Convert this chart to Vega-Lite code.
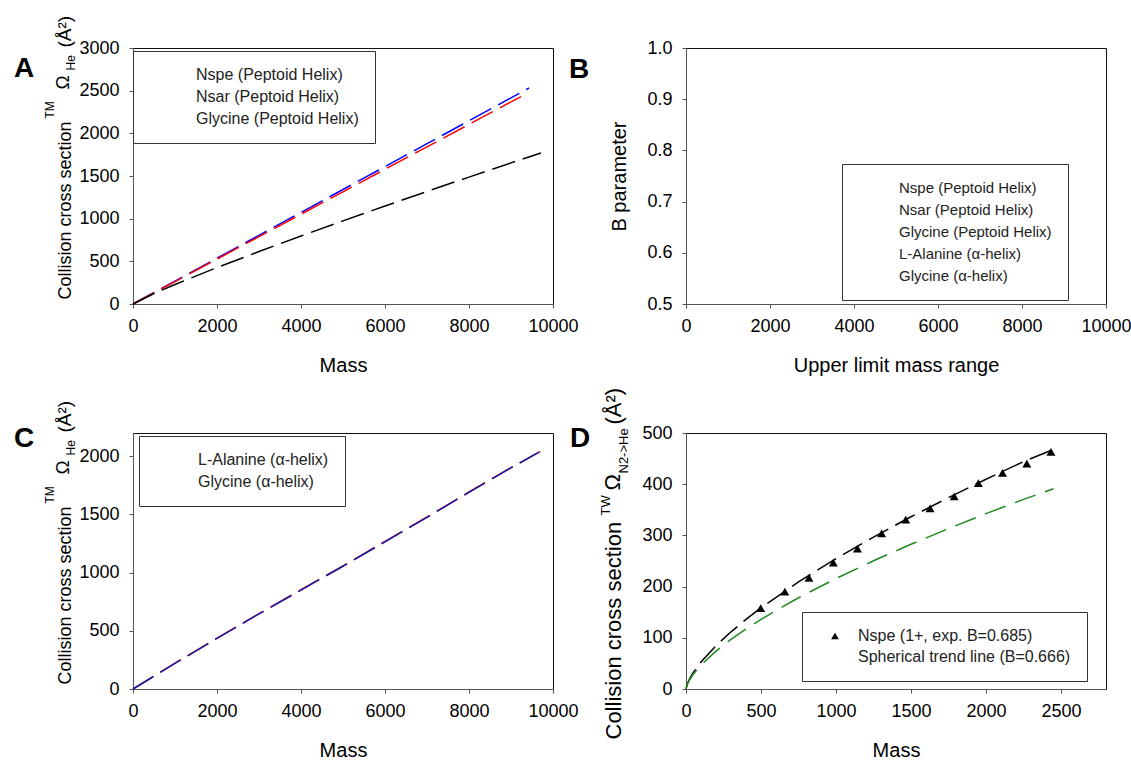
{
  "$schema": "https://vega.github.io/schema/vega-lite/v6.json",
  "padding": {"left": 13, "top": 14, "right": 10, "bottom": 10},
  "background": "white",
  "config": {
    "font": "Liberation Sans",
    "view": {"stroke": "#111", "strokeWidth": 1},
    "axis": {"labelFont": "Liberation Sans", "titleFont": "Liberation Sans", "labelFontSize": 18, "titleFontSize": 20, "titleFontWeight": "normal", "labelColor": "#000", "titleColor": "#000", "domainColor": "#555", "tickColor": "#555", "tickSize": 4, "labelPadding": 9, "titlePadding": 20, "grid": false, "labelFlush": false, "labelOverlap": false, "format": "d"},
    "legend": {"labelFont": "Liberation Sans", "labelFontSize": 16, "labelColor": "#222", "strokeColor": "#333", "fillColor": "white", "padding": 16, "rowPadding": 6, "symbolOpacity": 0, "labelLimit": 400}
  },
  "datasets": {
    "A": [
      {"m": 0, "v": 0, "s": "Nspe (Peptoid Helix)"}, {"m": 1000, "v": 268, "s": "Nspe (Peptoid Helix)"}, {"m": 2000, "v": 537, "s": "Nspe (Peptoid Helix)"}, {"m": 3000, "v": 805, "s": "Nspe (Peptoid Helix)"}, {"m": 4000, "v": 1074, "s": "Nspe (Peptoid Helix)"}, {"m": 5000, "v": 1342, "s": "Nspe (Peptoid Helix)"}, {"m": 6000, "v": 1610, "s": "Nspe (Peptoid Helix)"}, {"m": 7000, "v": 1879, "s": "Nspe (Peptoid Helix)"}, {"m": 8000, "v": 2147, "s": "Nspe (Peptoid Helix)"}, {"m": 9000, "v": 2416, "s": "Nspe (Peptoid Helix)"}, {"m": 9430, "v": 2531, "s": "Nspe (Peptoid Helix)"},
      {"m": 0, "v": 0, "s": "Nsar (Peptoid Helix)"}, {"m": 1000, "v": 263, "s": "Nsar (Peptoid Helix)"}, {"m": 2000, "v": 526, "s": "Nsar (Peptoid Helix)"}, {"m": 3000, "v": 789, "s": "Nsar (Peptoid Helix)"}, {"m": 4000, "v": 1052, "s": "Nsar (Peptoid Helix)"}, {"m": 5000, "v": 1315, "s": "Nsar (Peptoid Helix)"}, {"m": 6000, "v": 1579, "s": "Nsar (Peptoid Helix)"}, {"m": 7000, "v": 1842, "s": "Nsar (Peptoid Helix)"}, {"m": 8000, "v": 2105, "s": "Nsar (Peptoid Helix)"}, {"m": 9000, "v": 2368, "s": "Nsar (Peptoid Helix)"}, {"m": 9360, "v": 2463, "s": "Nsar (Peptoid Helix)"},
      {"m": 0, "v": 0, "s": "Glycine (Peptoid Helix)"}, {"m": 500, "v": 123, "s": "Glycine (Peptoid Helix)"}, {"m": 1000, "v": 229, "s": "Glycine (Peptoid Helix)"}, {"m": 2000, "v": 427, "s": "Glycine (Peptoid Helix)"}, {"m": 3000, "v": 615, "s": "Glycine (Peptoid Helix)"}, {"m": 4000, "v": 797, "s": "Glycine (Peptoid Helix)"}, {"m": 5000, "v": 974, "s": "Glycine (Peptoid Helix)"}, {"m": 6000, "v": 1148, "s": "Glycine (Peptoid Helix)"}, {"m": 7000, "v": 1319, "s": "Glycine (Peptoid Helix)"}, {"m": 8000, "v": 1487, "s": "Glycine (Peptoid Helix)"}, {"m": 9000, "v": 1654, "s": "Glycine (Peptoid Helix)"}, {"m": 9714, "v": 1770, "s": "Glycine (Peptoid Helix)"}
    ],
    "B": [
      {"s": "Nspe (Peptoid Helix)"}, {"s": "Nsar (Peptoid Helix)"}, {"s": "Glycine (Peptoid Helix)"}, {"s": "L-Alanine (α-helix)"}, {"s": "Glycine (α-helix)"}
    ],
    "C": [
      {"m": 0, "v": 0, "s": "L-Alanine (α-helix)"}, {"m": 1000, "v": 222, "s": "L-Alanine (α-helix)"}, {"m": 2000, "v": 438, "s": "L-Alanine (α-helix)"}, {"m": 3000, "v": 648, "s": "L-Alanine (α-helix)"}, {"m": 4000, "v": 853, "s": "L-Alanine (α-helix)"}, {"m": 5000, "v": 1058, "s": "L-Alanine (α-helix)"}, {"m": 6000, "v": 1268, "s": "L-Alanine (α-helix)"}, {"m": 7000, "v": 1478, "s": "L-Alanine (α-helix)"}, {"m": 8000, "v": 1693, "s": "L-Alanine (α-helix)"}, {"m": 9000, "v": 1903, "s": "L-Alanine (α-helix)"}, {"m": 9700, "v": 2042, "s": "L-Alanine (α-helix)"},
      {"m": 0, "v": 0, "s": "Glycine (α-helix)"}, {"m": 1000, "v": 220, "s": "Glycine (α-helix)"}, {"m": 2000, "v": 435, "s": "Glycine (α-helix)"}, {"m": 3000, "v": 645, "s": "Glycine (α-helix)"}, {"m": 4000, "v": 850, "s": "Glycine (α-helix)"}, {"m": 5000, "v": 1055, "s": "Glycine (α-helix)"}, {"m": 6000, "v": 1265, "s": "Glycine (α-helix)"}, {"m": 7000, "v": 1475, "s": "Glycine (α-helix)"}, {"m": 8000, "v": 1690, "s": "Glycine (α-helix)"}, {"m": 9000, "v": 1900, "s": "Glycine (α-helix)"}, {"m": 9667, "v": 2035, "s": "Glycine (α-helix)"}
    ],
    "Dpts": [
      {"m": 498, "v": 158, "s": "Nspe (1+, exp. B=0.685)"}, {"m": 659, "v": 190, "s": "Nspe (1+, exp. B=0.685)"}, {"m": 820, "v": 217, "s": "Nspe (1+, exp. B=0.685)"}, {"m": 982, "v": 247, "s": "Nspe (1+, exp. B=0.685)"}, {"m": 1143, "v": 274, "s": "Nspe (1+, exp. B=0.685)"}, {"m": 1304, "v": 304, "s": "Nspe (1+, exp. B=0.685)"}, {"m": 1465, "v": 331, "s": "Nspe (1+, exp. B=0.685)"}, {"m": 1627, "v": 353, "s": "Nspe (1+, exp. B=0.685)"}, {"m": 1788, "v": 376, "s": "Nspe (1+, exp. B=0.685)"}, {"m": 1949, "v": 402, "s": "Nspe (1+, exp. B=0.685)"}, {"m": 2110, "v": 422, "s": "Nspe (1+, exp. B=0.685)"}, {"m": 2272, "v": 440, "s": "Nspe (1+, exp. B=0.685)"}, {"m": 2433, "v": 463, "s": "Nspe (1+, exp. B=0.685)"}
    ],
    "Dfit": [
      {"m": 0, "v": 0}, {"m": 10, "v": 10.9}, {"m": 25, "v": 20.4}, {"m": 50, "v": 32.7}, {"m": 100, "v": 52.6}, {"m": 200, "v": 84.6}, {"m": 300, "v": 111.7}, {"m": 400, "v": 136.0}, {"m": 500, "v": 158.5}, {"m": 750, "v": 209.2}, {"m": 1000, "v": 254.8}, {"m": 1250, "v": 296.8}, {"m": 1500, "v": 336.4}, {"m": 1750, "v": 373.8}, {"m": 2000, "v": 409.7}, {"m": 2250, "v": 444.1}, {"m": 2450, "v": 468.0}
    ],
    "Dsph": [
      {"m": 0, "v": 0}, {"m": 10, "v": 10.0}, {"m": 25, "v": 18.5}, {"m": 50, "v": 29.4}, {"m": 100, "v": 46.6}, {"m": 200, "v": 73.9}, {"m": 300, "v": 96.8}, {"m": 400, "v": 117.2}, {"m": 500, "v": 136.0}, {"m": 750, "v": 178.2}, {"m": 1000, "v": 215.8}, {"m": 1250, "v": 250.4}, {"m": 1500, "v": 282.7}, {"m": 1750, "v": 313.3}, {"m": 2000, "v": 342.5}, {"m": 2250, "v": 370.3}, {"m": 2450, "v": 391.0}
    ]
  },
  "columns": 2,
  "spacing": {"row": 129, "column": 133},
  "bounds": "flush",
  "resolve": {"scale": {"x": "independent", "y": "independent", "color": "independent", "shape": "independent"}, "legend": {"color": "independent", "shape": "independent"}},
  "concat": [
    {
      "width": 420, "height": 256,
      "title": {"text": "A", "anchor": "start", "frame": "group", "dx": -119, "dy": 94, "fontSize": 28, "fontWeight": "bold", "font": "Liberation Sans", "align": "left", "baseline": "alphabetic", "color": "black"},
      "resolve": {"axis": {"y": "independent"}},
      "layer": [
        {"data": {"name": "A"}, "mark": {"type": "line", "strokeDash": [24, 8], "strokeWidth": 1.5},
          "encoding": {
            "x": {"field": "m", "type": "quantitative", "scale": {"domain": [0, 10000], "nice": false}, "axis": {"title": "Mass", "values": [0, 2000, 4000, 6000, 8000, 10000]}},
            "y": {"field": "v", "type": "quantitative", "scale": {"domain": [0, 3000], "nice": false}, "axis": {"orient": "left", "title": "Collision cross section", "values": [0, 500, 1000, 1500, 2000, 2500, 3000], "labelPadding": 10, "titleX": -63, "titleY": 251, "titleAngle": 270, "titleAlign": "left", "titleBaseline": "alphabetic", "titleFontSize": 18}},
            "color": {"field": "s", "type": "nominal", "scale": {"domain": ["Nspe (Peptoid Helix)", "Nsar (Peptoid Helix)", "Glycine (Peptoid Helix)"], "range": ["#0000ff", "#ff0000", "#000000"]}, "legend": {"title": null, "orient": "none", "legendX": 0, "legendY": 3, "labelOffset": 31}}
          }},
        {"data": {"name": "A"}, "mark": {"type": "point", "opacity": 0},
          "encoding": {
            "x": {"field": "m", "type": "quantitative", "scale": {"domain": [0, 10000], "nice": false}, "axis": {"title": "Mass", "values": [0, 2000, 4000, 6000, 8000, 10000]}},
            "y": {"field": "v", "type": "quantitative", "scale": {"domain": [0, 3000], "nice": false}, "axis": {"orient": "left", "title": "TM", "labels": false, "ticks": false, "domain": false, "titleX": -80, "titleY": 70, "titleAngle": 270, "titleAlign": "left", "titleBaseline": "alphabetic", "titleFontSize": 12}}
          }},
        {"data": {"name": "A"}, "mark": {"type": "point", "opacity": 0},
          "encoding": {
            "x": {"field": "m", "type": "quantitative", "scale": {"domain": [0, 10000], "nice": false}, "axis": {"title": "Mass", "values": [0, 2000, 4000, 6000, 8000, 10000]}},
            "y": {"field": "v", "type": "quantitative", "scale": {"domain": [0, 3000], "nice": false}, "axis": {"orient": "left", "title": "Ω", "labels": false, "ticks": false, "domain": false, "titleX": -65, "titleY": 41, "titleAngle": 270, "titleAlign": "left", "titleBaseline": "alphabetic", "titleFontSize": 19}}
          }},
        {"data": {"name": "A"}, "mark": {"type": "point", "opacity": 0},
          "encoding": {
            "x": {"field": "m", "type": "quantitative", "scale": {"domain": [0, 10000], "nice": false}, "axis": {"title": "Mass", "values": [0, 2000, 4000, 6000, 8000, 10000]}},
            "y": {"field": "v", "type": "quantitative", "scale": {"domain": [0, 3000], "nice": false}, "axis": {"orient": "left", "title": "He", "labels": false, "ticks": false, "domain": false, "titleX": -59, "titleY": 22, "titleAngle": 270, "titleAlign": "left", "titleBaseline": "alphabetic", "titleFontSize": 12}}
          }},
        {"data": {"name": "A"}, "mark": {"type": "point", "opacity": 0},
          "encoding": {
            "x": {"field": "m", "type": "quantitative", "scale": {"domain": [0, 10000], "nice": false}, "axis": {"title": "Mass", "values": [0, 2000, 4000, 6000, 8000, 10000]}},
            "y": {"field": "v", "type": "quantitative", "scale": {"domain": [0, 3000], "nice": false}, "axis": {"orient": "left", "title": "(Å²)", "labels": false, "ticks": false, "domain": false, "titleX": -63, "titleY": -1, "titleAngle": 270, "titleAlign": "left", "titleBaseline": "alphabetic", "titleFontSize": 19}}
          }}
      ]
    },
    {
      "width": 420, "height": 256,
      "title": {"text": "B", "anchor": "start", "frame": "group", "dx": -117, "dy": 71, "fontSize": 28, "fontWeight": "bold", "font": "Liberation Sans", "align": "left", "baseline": "alphabetic", "color": "black"},
      "data": {"name": "B"},
      "mark": {"type": "point", "opacity": 0},
      "encoding": {
        "x": {"field": "m", "type": "quantitative", "scale": {"domain": [0, 10000], "nice": false}, "axis": {"title": "Upper limit mass range", "values": [0, 2000, 4000, 6000, 8000, 10000]}},
        "y": {"field": "b", "type": "quantitative", "scale": {"domain": [0.5, 1.0], "nice": false, "zero": false}, "axis": {"title": "B parameter", "values": [0.5, 0.6, 0.7, 0.8, 0.9, 1.0], "format": ".1f", "labelPadding": 10, "titleX": -61, "titleY": 128, "titleAngle": 270, "titleAlign": "center", "titleBaseline": "alphabetic"}},
        "color": {"field": "s", "type": "nominal", "scale": {"domain": ["Nspe (Peptoid Helix)", "Nsar (Peptoid Helix)", "Glycine (Peptoid Helix)", "L-Alanine (α-helix)", "Glycine (α-helix)"], "range": ["#0000ff", "#ff0000", "#000000", "#cc0000", "#1a1aa8"]}, "legend": {"title": null, "orient": "none", "legendX": 156, "legendY": 116, "labelOffset": 26, "labelFontSize": 15, "symbolType": "stroke"}}
      }
    },
    {
      "width": 420, "height": 256,
      "title": {"text": "C", "anchor": "start", "frame": "group", "dx": -119, "dy": 79, "fontSize": 28, "fontWeight": "bold", "font": "Liberation Sans", "align": "left", "baseline": "alphabetic", "color": "black"},
      "resolve": {"axis": {"y": "independent"}},
      "layer": [
        {"data": {"name": "C"}, "mark": {"type": "line", "strokeDash": [24, 8], "strokeWidth": 1.5},
          "encoding": {
            "x": {"field": "m", "type": "quantitative", "scale": {"domain": [0, 10000], "nice": false}, "axis": {"title": "Mass", "values": [0, 2000, 4000, 6000, 8000, 10000]}},
            "y": {"field": "v", "type": "quantitative", "scale": {"domain": [0, 2200], "nice": false}, "axis": {"orient": "left", "title": "Collision cross section", "values": [0, 500, 1000, 1500, 2000], "labelPadding": 10, "titleX": -63, "titleY": 251, "titleAngle": 270, "titleAlign": "left", "titleBaseline": "alphabetic", "titleFontSize": 18}},
            "color": {"field": "s", "type": "nominal", "scale": {"domain": ["L-Alanine (α-helix)", "Glycine (α-helix)"], "range": ["#cc1111", "#1a1aa8"]}, "legend": {"title": null, "orient": "none", "legendX": 6, "legendY": 3, "labelOffset": 27}}
          }},
        {"data": {"name": "C"}, "mark": {"type": "point", "opacity": 0},
          "encoding": {
            "x": {"field": "m", "type": "quantitative", "scale": {"domain": [0, 10000], "nice": false}, "axis": {"title": "Mass", "values": [0, 2000, 4000, 6000, 8000, 10000]}},
            "y": {"field": "v", "type": "quantitative", "scale": {"domain": [0, 2200], "nice": false}, "axis": {"orient": "left", "title": "TM", "labels": false, "ticks": false, "domain": false, "titleX": -80, "titleY": 70, "titleAngle": 270, "titleAlign": "left", "titleBaseline": "alphabetic", "titleFontSize": 12}}
          }},
        {"data": {"name": "C"}, "mark": {"type": "point", "opacity": 0},
          "encoding": {
            "x": {"field": "m", "type": "quantitative", "scale": {"domain": [0, 10000], "nice": false}, "axis": {"title": "Mass", "values": [0, 2000, 4000, 6000, 8000, 10000]}},
            "y": {"field": "v", "type": "quantitative", "scale": {"domain": [0, 2200], "nice": false}, "axis": {"orient": "left", "title": "Ω", "labels": false, "ticks": false, "domain": false, "titleX": -65, "titleY": 41, "titleAngle": 270, "titleAlign": "left", "titleBaseline": "alphabetic", "titleFontSize": 19}}
          }},
        {"data": {"name": "C"}, "mark": {"type": "point", "opacity": 0},
          "encoding": {
            "x": {"field": "m", "type": "quantitative", "scale": {"domain": [0, 10000], "nice": false}, "axis": {"title": "Mass", "values": [0, 2000, 4000, 6000, 8000, 10000]}},
            "y": {"field": "v", "type": "quantitative", "scale": {"domain": [0, 2200], "nice": false}, "axis": {"orient": "left", "title": "He", "labels": false, "ticks": false, "domain": false, "titleX": -59, "titleY": 22, "titleAngle": 270, "titleAlign": "left", "titleBaseline": "alphabetic", "titleFontSize": 12}}
          }},
        {"data": {"name": "C"}, "mark": {"type": "point", "opacity": 0},
          "encoding": {
            "x": {"field": "m", "type": "quantitative", "scale": {"domain": [0, 10000], "nice": false}, "axis": {"title": "Mass", "values": [0, 2000, 4000, 6000, 8000, 10000]}},
            "y": {"field": "v", "type": "quantitative", "scale": {"domain": [0, 2200], "nice": false}, "axis": {"orient": "left", "title": "(Å²)", "labels": false, "ticks": false, "domain": false, "titleX": -63, "titleY": -1, "titleAngle": 270, "titleAlign": "left", "titleBaseline": "alphabetic", "titleFontSize": 19}}
          }}
      ]
    },
    {
      "width": 420, "height": 256,
      "title": {"text": "D", "anchor": "start", "frame": "group", "dx": -116, "dy": 92, "fontSize": 28, "fontWeight": "bold", "font": "Liberation Sans", "align": "left", "baseline": "alphabetic", "color": "black"},
      "resolve": {"axis": {"y": "independent"}},
      "layer": [
        {"data": {"name": "Dfit"}, "mark": {"type": "line", "strokeDash": [22, 8], "strokeWidth": 1.5, "color": "#000000"},
          "encoding": {
            "x": {"field": "m", "type": "quantitative", "scale": {"domain": [0, 2800], "nice": false}, "axis": {"title": "Mass", "values": [0, 500, 1000, 1500, 2000, 2500]}},
            "y": {"field": "v", "type": "quantitative", "scale": {"domain": [0, 500], "nice": false}, "axis": {"orient": "left", "title": "Collision cross section", "values": [0, 100, 200, 300, 400, 500], "labelPadding": 10, "titleX": -66, "titleY": 306, "titleAngle": 270, "titleAlign": "left", "titleBaseline": "alphabetic", "titleFontSize": 22}}
          }},
        {"data": {"name": "Dsph"}, "mark": {"type": "line", "strokeDash": [22, 10], "strokeWidth": 1.5, "color": "#1f8a1f"},
          "encoding": {
            "x": {"field": "m", "type": "quantitative", "scale": {"domain": [0, 2800], "nice": false}, "axis": {"title": "Mass", "values": [0, 500, 1000, 1500, 2000, 2500]}},
            "y": {"field": "v", "type": "quantitative", "scale": {"domain": [0, 500], "nice": false}, "axis": {"orient": "left", "title": "TW", "labels": false, "ticks": false, "domain": false, "titleX": -77, "titleY": 82, "titleAngle": 270, "titleAlign": "left", "titleBaseline": "alphabetic", "titleFontSize": 13}}
          }},
        {"data": {"name": "Dpts"}, "mark": {"type": "point", "filled": true, "size": 80, "color": "#000000", "opacity": 1},
          "encoding": {
            "x": {"field": "m", "type": "quantitative", "scale": {"domain": [0, 2800], "nice": false}, "axis": {"title": "Mass", "values": [0, 500, 1000, 1500, 2000, 2500]}},
            "y": {"field": "v", "type": "quantitative", "scale": {"domain": [0, 500], "nice": false}, "axis": {"orient": "left", "title": "Ω", "labels": false, "ticks": false, "domain": false, "titleX": -67, "titleY": 57, "titleAngle": 270, "titleAlign": "left", "titleBaseline": "alphabetic", "titleFontSize": 22}},
            "shape": {"field": "s", "type": "nominal", "scale": {"domain": ["Nspe (1+, exp. B=0.685)", "Spherical trend line (B=0.666)"], "range": ["triangle-up", "M0,0L0,0"]}, "legend": {"title": null, "orient": "none", "legendX": 116, "legendY": 179, "symbolOpacity": 1, "symbolSize": 60, "symbolOffset": 9, "labelOffset": 15, "symbolFillColor": "#000000", "symbolStrokeColor": "#000000", "rowPadding": 5}}
          }},
        {"data": {"name": "Dpts"}, "mark": {"type": "point", "opacity": 0},
          "encoding": {
            "x": {"field": "m", "type": "quantitative", "scale": {"domain": [0, 2800], "nice": false}, "axis": {"title": "Mass", "values": [0, 500, 1000, 1500, 2000, 2500]}},
            "y": {"field": "v", "type": "quantitative", "scale": {"domain": [0, 500], "nice": false}, "axis": {"orient": "left", "title": "N2->He", "labels": false, "ticks": false, "domain": false, "titleX": -59, "titleY": 40, "titleAngle": 270, "titleAlign": "left", "titleBaseline": "alphabetic", "titleFontSize": 13}}
          }},
        {"data": {"name": "Dpts"}, "mark": {"type": "point", "opacity": 0},
          "encoding": {
            "x": {"field": "m", "type": "quantitative", "scale": {"domain": [0, 2800], "nice": false}, "axis": {"title": "Mass", "values": [0, 500, 1000, 1500, 2000, 2500]}},
            "y": {"field": "v", "type": "quantitative", "scale": {"domain": [0, 500], "nice": false}, "axis": {"orient": "left", "title": "(Å²)", "labels": false, "ticks": false, "domain": false, "titleX": -66, "titleY": -9, "titleAngle": 270, "titleAlign": "left", "titleBaseline": "alphabetic", "titleFontSize": 22}}
          }}
      ]
    }
  ]
}
